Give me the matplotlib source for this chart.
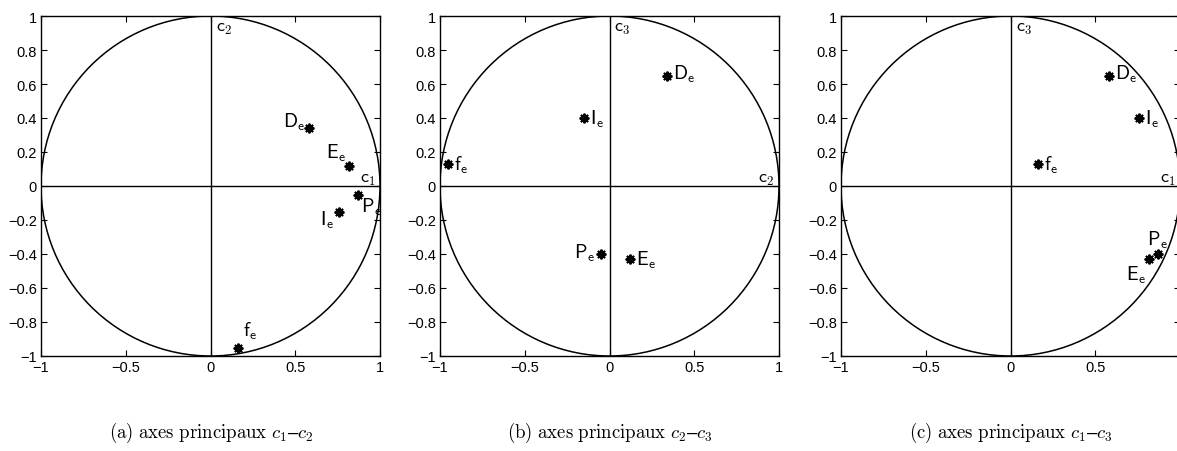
import numpy as np
import matplotlib
matplotlib.use("Agg")
import matplotlib.pyplot as plt
from matplotlib.patches import Circle

plt.rcParams['font.family'] = ['Liberation Sans', 'DejaVu Sans']
plt.rcParams['mathtext.fontset'] = 'cm'

# coordonnees des variables sur les axes principaux
noms = ["D", "E", "P", "I", "f"]
c1 = [0.58, 0.82, 0.87, 0.76, 0.16]
c2 = [0.34, 0.12, -0.05, -0.15, -0.95]
c3 = [0.65, -0.43, -0.40, 0.40, 0.13]

xticks = [-1, -0.5, 0, 0.5, 1]
xticklabels = ["\u22121", "\u22120.5", "0", "0.5", "1"]
yticks = [1, 0.8, 0.6, 0.4, 0.2, 0, -0.2, -0.4, -0.6, -0.8, -1]
yticklabels = ["1", "0.8", "0.6", "0.4", "0.2", "0", "\u22120.2", "\u22120.4",
               "\u22120.6", "\u22120.8", "\u22121"]

# (ha, dx, dy) en pixels pour chaque etiquette
decalages = {
    "a": {"D": ("right", -3, 7), "E": ("right", -3, 13), "P": ("left", 3, -12),
          "I": ("right", -5, -8), "f": ("left", 5, 17)},
    "b": {"f": ("left", 6, 0), "I": ("left", 6, 0), "D": ("left", 6, 2),
          "P": ("right", -6, 2), "E": ("left", 6, 0)},
    "c": {"D": ("left", 6, 2), "I": ("left", 6, 0), "f": ("left", 6, 0),
          "P": ("center", 0, 15), "E": ("right", -3, -15)},
}

panneaux = [
    ("a", c1, c2, "c_1", "c_2", r"$\mathrm{(a)\ axes\ principaux}\ c_1$" + "\u2013" + r"$c_2$"),
    ("b", c2, c3, "c_2", "c_3", r"$\mathrm{(b)\ axes\ principaux}\ c_2$" + "\u2013" + r"$c_3$"),
    ("c", c1, c3, "c_1", "c_3", r"$\mathrm{(c)\ axes\ principaux}\ c_1$" + "\u2013" + r"$c_3$"),
]

W, H = 1177, 452
fig = plt.figure(figsize=(W / 100, H / 100), dpi=100)
lefts = [41, 440, 841]
px = 72 / 100

for (cle, xs, ys, nx, ny, legende), l in zip(panneaux, lefts):
    ax = fig.add_axes([l / W, (H - 357) / H, 339 / W, 340 / H])
    ax.set_xlim(-1, 1)
    ax.set_ylim(-1, 1)
    ax.add_patch(Circle((0, 0), 1, fill=False, color="black", lw=1.1))
    ax.axhline(0, color="black", lw=1)
    ax.axvline(0, color="black", lw=1)
    ax.plot(xs, ys, linestyle="none", marker=(8, 2, 0), color="black",
            markersize=7, markeredgewidth=1.4)
    for nom, x, y in zip(noms, xs, ys):
        ha, dx, dy = decalages[cle][nom]
        ax.annotate(r"$\mathsf{%s}_\mathsf{e}$" % nom, (x, y),
                    xytext=(dx * px, dy * px), textcoords="offset points",
                    ha=ha, va="center", fontsize=14)
    ax.annotate(r"$\mathsf{%s}$" % ny.replace("_", "}_\\mathsf{"), (0, 1),
                xytext=(5 * px, -11 * px), textcoords="offset points",
                ha="left", va="center", fontsize=13)
    ax.annotate(r"$\mathsf{%s}$" % nx.replace("_", "}_\\mathsf{"), (1, 0),
                xytext=(-4 * px, 8 * px), textcoords="offset points",
                ha="right", va="center", fontsize=13)
    ax.set_xticks(xticks)
    if cle == "c":
        # le dernier libelle sort de l'image
        ax.set_xticklabels(xticklabels[:-1] + [""])
    else:
        ax.set_xticklabels(xticklabels)
    ax.set_yticks(yticks)
    ax.set_yticklabels(yticklabels)
    ax.tick_params(direction="in", top=True, right=True, length=4,
                   labelsize=10.5, width=0.8, pad=3)
    for s in ax.spines.values():
        s.set_linewidth(1)
    fig.text((l + 170) / W, 1 - 433 / H, legende, ha="center", va="center",
             fontsize=13.5)

fig.savefig("out.png", dpi=100)
